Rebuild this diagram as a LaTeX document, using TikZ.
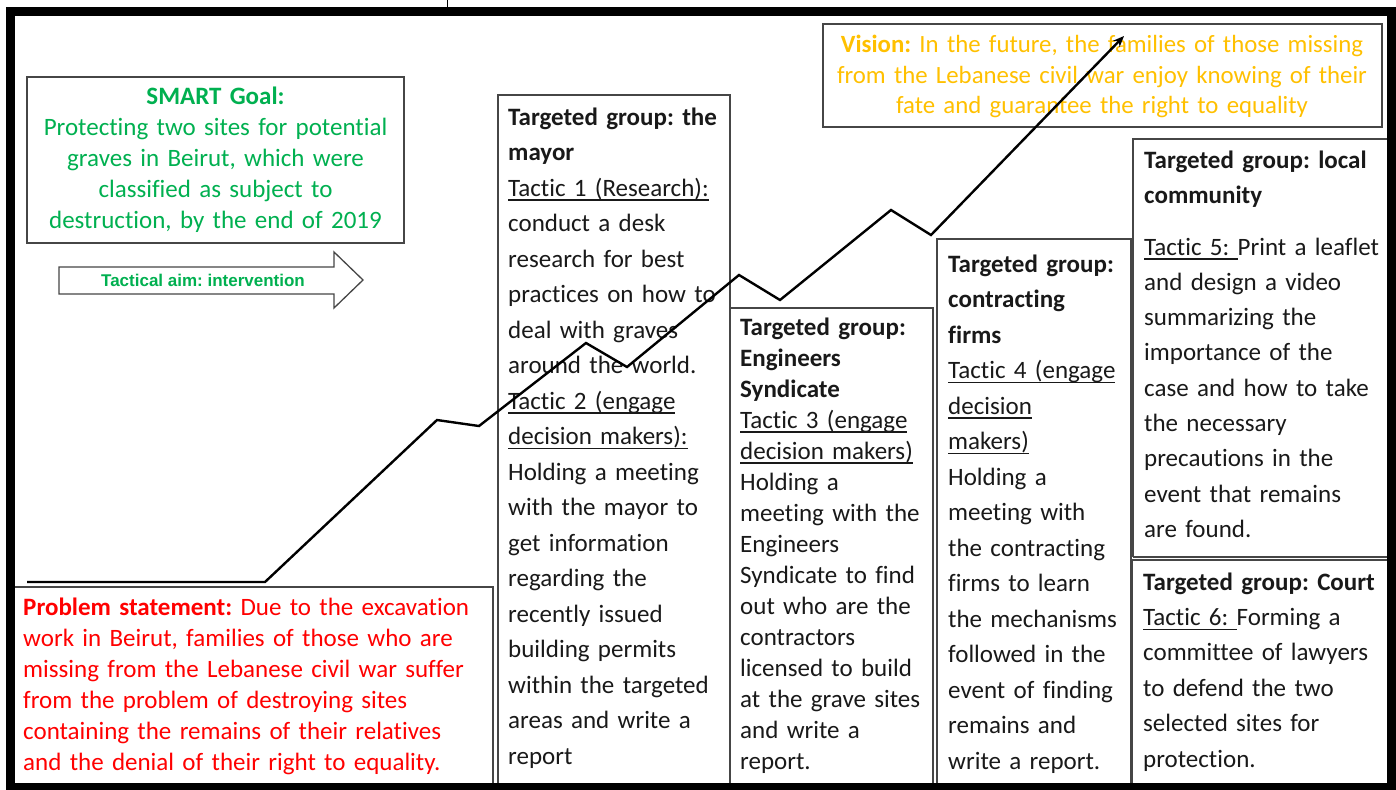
\documentclass[tikz,border=0pt]{standalone}
\usepackage{fontspec}
\setmainfont{Carlito}[Ligatures={TeX,NoCommon}]
\newfontfamily\arialfont{Liberation Sans}
\usetikzlibrary{arrows.meta}
\definecolor{smartgreen}{RGB}{0,176,80}
\definecolor{visgold}{RGB}{255,192,0}
\definecolor{probred}{RGB}{255,0,0}
\definecolor{boxgray}{RGB}{70,70,70}
\definecolor{bodytext}{RGB}{25,25,25}
\newcommand{\ulx}[1]{\leavevmode\setbox0\hbox{#1}\rlap{\rule[-4.5pt]{\wd0}{1.3pt}}\box0}
\frenchspacing
\begin{document}
\begin{tikzpicture}[x=1pt,y=-1pt,
  panel/.style={draw=boxgray,line width=1.3pt},
  bodytxt/.style={anchor=base west,inner sep=0pt,text width=#1,align=left,
    font=\frenchspacing\fontsize{25}{35.5}\selectfont,text=bodytext},
  bodytight/.style={anchor=base west,inner sep=0pt,text width=#1,align=left,
    font=\frenchspacing\fontsize{25}{31}\selectfont,text=bodytext},
  zig/.style={draw=black,line width=2.4pt,line join=miter}]
\useasboundingbox (0,0) rectangle (1396,789);
\fill[white] (0,0) rectangle (1396,789);

% panels
\draw[panel] (27,77) rectangle (404,243);
\draw[panel] (823,24) rectangle (1382,127);
\draw[panel] (14,587) -- (493,587) -- (493,789);
\draw[panel] (498,789) -- (498,95) -- (730,95) -- (730,789);
\draw[panel] (730,308) -- (933,308) -- (933,789);
\draw[panel] (937,789) -- (937,239) -- (1131,239) -- (1131,789);
\draw[panel] (1133,557) -- (1133,139) -- (1387,139);
\draw[panel] (1133,557) -- (1387,557);
\draw[panel] (1132,789) -- (1132,560) -- (1387,560);

% tactical aim arrow
\draw[boxgray,line width=1.3pt,fill=white] (59,267) -- (334,267) -- (334,252) -- (363,280)
  -- (334,308) -- (334,294) -- (59,294) -- cycle;
\node[font=\arialfont\bfseries\fontsize{17}{20}\selectfont,text=smartgreen,inner sep=0pt]
  (aim) at (203,280) {Tactical aim: intervention};

% SMART goal
\node[anchor=base,inner sep=0pt,text width=370pt,align=center,
  font=\frenchspacing\fontsize{25}{30.8}\selectfont,text=smartgreen] (smart) at (215.5,105)
  {\textbf{SMART Goal:}\\ Protecting two sites for potential\\ graves in Beirut, which were\\
   classified as subject to\\ destruction, by the end of 2019};

% Vision
\node[anchor=base,inner sep=0pt,text width=550pt,align=center,
  font=\frenchspacing\fontsize{24.8}{30.5}\selectfont,text=visgold] (vision) at (1102,53)
  {\textbf{Vision:} In the future, the families of those missing\\
   from the Lebanese civil war enjoy knowing of their\\ fate and guarantee the right to equality};

% Problem statement
\node[anchor=base west,inner sep=0pt,text width=480pt,align=left,
  font=\frenchspacing\fontsize{25}{31}\selectfont,text=probred] (problem) at (23,615)
  {\textbf{Problem statement:} Due to the excavation\\ work in Beirut, families of those who are\\
   missing from the Lebanese civil war suffer\\ from the problem of destroying sites\\
   containing the remains of their relatives\\ and the denial of their right to equality.};

% Mayor
\node[bodytxt=260pt] (mayor) at (508,125)
  {\textbf{Targeted group: the}\\ \textbf{mayor}\\ \ulx{Tactic 1 (Research):}\\ conduct a desk\\
   research for best\\ practices on how to\\ deal with graves\\ around the world.\\
   \ulx{Tactic 2 (engage}\\ \ulx{decision makers):}\\ Holding a meeting\\ with the mayor to\\
   get information\\ regarding the\\ recently issued\\ building permits\\ within the targeted\\
   areas and write a\\ report};

% Engineers
\node[bodytight=250pt] (eng) at (740,335)
  {\textbf{Targeted group:}\\ \textbf{Engineers}\\ \textbf{Syndicate}\\ \ulx{Tactic 3 (engage}\\
   \ulx{decision makers)}\\ Holding a\\ meeting with the\\ Engineers\\ Syndicate to find\\
   out who are the\\ contractors\\ licensed to build\\ at the grave sites\\ and write a\\ report.};

% Contracting firms
\node[bodytxt=250pt] (firms) at (948,272)
  {\textbf{Targeted group:}\\ \textbf{contracting}\\ \textbf{firms}\\ \ulx{Tactic 4 (engage}\\
   \ulx{decision}\\ \ulx{makers)}\\ Holding a\\ meeting with\\ the contracting\\ firms to learn\\
   the mechanisms\\ followed in the\\ event of finding\\ remains and\\ write a report.};

% Local community
\node[bodytxt=260pt] (localhead) at (1144,168)
  {\textbf{Targeted group: local}\\ \textbf{community}};
\node[bodytxt=260pt,font=\frenchspacing\fontsize{25}{35.3}\selectfont] (localtac) at (1144,255)
  {\ulx{Tactic 5:\ }Print a leaflet\\ and design a video\\ summarizing the\\ importance of the\\
   case and how to take\\ the necessary\\ precautions in the\\ event that remains\\ are found.};

% Court
\node[bodytxt=260pt,font=\frenchspacing\fontsize{25}{35.4}\selectfont] (court) at (1143,590)
  {\textbf{Targeted group: Court}\\ \ulx{Tactic 6:\ }Forming a\\ committee of lawyers\\
   to defend the two\\ selected sites for\\ protection.};

% zigzag progress line
\coordinate (z0) at (27,582);
\coordinate (z1) at (265,582);
\coordinate (z2) at (437,420);
\coordinate (z3) at (479,426);
\coordinate (z4) at (586,343);
\coordinate (z5) at (627,367);
\coordinate (z6) at (739,275);
\coordinate (z7) at (780,300);
\coordinate (z8) at (891,210);
\coordinate (z9) at (931,235);
\coordinate (z10) at (1124,36);
\draw[zig,-{Stealth[length=11pt,width=9pt]}] (z0) -- (z1) -- (z2) -- (z3) -- (z4) -- (z5)
  -- (z6) -- (z7) -- (z8) -- (z9) -- (z10);

% outer frame
\draw[black,line width=8.5pt] (10.5,11.5) rectangle (1391.5,787);
\draw[black,line width=1pt] (447,0) -- (447,7);
\end{tikzpicture}
\end{document}
